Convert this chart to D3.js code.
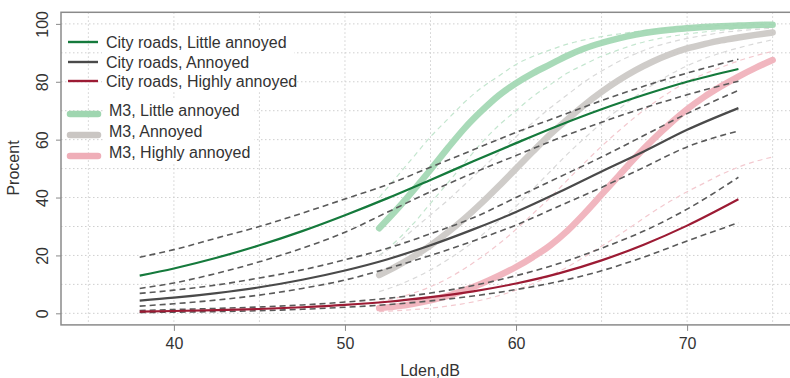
<!DOCTYPE html>
<html>
<head>
<meta charset="utf-8">
<script src="https://cdn.jsdelivr.net/npm/d3@7"></script>
<style>
  body { margin: 0; background: #fff; }
  text { font-family: "Liberation Sans", Arial, sans-serif; fill: #333; }
</style>
</head>
<body>
<svg id="chart" width="790" height="378"></svg>
<script>
// Lden (dB) where the city-road curves were read
const cityDb = [38, 40, 42.5, 45, 47.5, 50, 52.5, 55, 57.5, 60, 62.5, 65, 67.5, 70, 73];
const cityLittle   = [13, 15.5, 19.2, 23.5, 28.4, 33.9, 39.8, 46.1, 52.5, 58.8, 64.9, 70.5, 75.5, 80, 84.4];
const cityLittleHi = [19.4, 22, 26, 30, 34.6, 39.5, 44.5, 50.5, 56.5, 62.5, 68, 73.5, 78.5, 83, 87.8];
const cityLittleLo = [8.6, 10.5, 13.8, 17.8, 22.5, 28, 35, 42, 48.5, 54.5, 60.5, 66, 71, 75.5, 80.2];
const cityAnnoyed   = [4.4, 5.4, 7, 9, 11.6, 14.8, 18.7, 23.5, 29, 35, 41.8, 49, 56, 63.4, 70.9];
const cityAnnoyedHi = [6.9, 8, 9.8, 12.2, 15, 18.5, 22.5, 27.5, 33, 40, 47, 54, 61.5, 69, 77];
const cityAnnoyedLo = [2.5, 3.3, 4.6, 6.3, 8.6, 11.5, 15.5, 20, 25, 30.5, 37, 43.5, 50.5, 57.5, 63];
const cityHighly   = [0.6, 0.8, 1.1, 1.5, 2.1, 2.9, 4, 5.6, 7.6, 10.3, 13.8, 18.3, 23.8, 30.3, 39.4];
const cityHighlyHi = [1, 1.3, 1.7, 2.2, 2.9, 3.9, 5.2, 7, 9.6, 13, 17.2, 22.5, 28.5, 36, 47];
const cityHighlyLo = [0.3, 0.4, 0.6, 0.9, 1.4, 2.1, 3, 4.3, 6, 8.2, 11, 14.7, 19.5, 25, 31.3];

// Lden (dB) where the M3 curves were read
const m3Db = [52, 53, 54, 55, 56, 57, 58, 59, 60, 61, 62, 63, 64, 65, 66, 67, 68, 69, 70, 71, 72, 73, 74, 75];
const m3Little   = [29.4, 35.7, 42.5, 49.6, 57, 64, 70, 75.3, 79.5, 83, 86, 89, 91.5, 93.4, 95, 96.3, 97.3, 98, 98.5, 98.9, 99.2, 99.4, 99.6, 99.7];
const m3LittleHi = [40, 47, 54, 61, 67, 73, 78, 82, 86, 88.8, 91, 93, 94.5, 95.6, 96.5, 97.3, 98, 98.5, 99, 99.2, 99.5, 99.6, 99.7, 99.8];
const m3LittleLo = [20, 25, 31, 38, 45, 52, 59, 65, 70, 75, 79, 83, 86, 88.8, 91, 93, 94.5, 95.6, 96.5, 97.2, 97.8, 98.3, 98.7, 99];
const m3Annoyed   = [13.2, 16.2, 19.6, 23.5, 27.9, 32.8, 38.2, 44, 50, 56, 61.8, 67, 72, 76.5, 80.5, 84, 87, 89.5, 91.5, 93, 94.3, 95.3, 96.2, 97];
const m3AnnoyedHi = [20, 24, 29, 34, 39, 44.5, 50, 55.5, 61, 66, 71, 75.5, 80, 83.7, 87, 89.7, 92, 93.6, 95, 96, 97, 97.6, 98.1, 98.5];
const m3AnnoyedLo = [7.5, 9.5, 12, 15, 18.5, 22.5, 27, 32, 37, 43, 49, 55, 60.5, 65.7, 70.5, 75, 79, 82.5, 85.5, 88, 90, 91.7, 93.2, 94.5];
const m3Highly   = [1.8, 2.4, 3.3, 4.5, 6, 8, 10.3, 13, 16, 19.5, 23.5, 28.5, 34.5, 41, 47.5, 54, 60, 65.5, 70.5, 74.8, 78.5, 81.8, 84.8, 87.5];
const m3HighlyHi = [4, 5.3, 7, 9.2, 12, 15.5, 19.5, 24, 29, 34.5, 40, 46, 52, 57.7, 63, 68, 72.5, 76.5, 80, 82.7, 85, 87.2, 89, 90.5];
const m3HighlyLo = [0.6, 0.9, 1.3, 1.8, 2.5, 3.4, 4.6, 6.1, 8, 10.3, 13, 16, 19.5, 23.2, 27, 31, 35, 38.7, 42, 45, 48, 50.5, 52.5, 54];

const xTicks = [40, 50, 60, 70];
const yTicks = [0, 20, 40, 60, 80, 100];
const xGrid = [35, 40, 45, 50, 55, 60, 65, 70, 75];
const yGrid = [0, 10, 20, 30, 40, 50, 60, 70, 80, 90, 100];

const legendCity = ['City roads, Little annoyed', 'City roads, Annoyed', 'City roads, Highly annoyed'];
const legendM3 = ['M3, Little annoyed', 'M3, Annoyed', 'M3, Highly annoyed'];

const cityColors = ['#157a3c', '#4a4a4a', '#9c1b34'];
const m3Colors = ['#9fd6b0', '#cac6c3', '#efaeb8'];
const m3CiColors = ['#c4e6cf', '#d9d9d9', '#f3c9cf'];

const svg = d3.select('#chart');
const plotLeft = 61, plotRight = 800, plotTop = 12.3, plotBottom = 324.9;

const x = d3.scaleLinear().domain([33.4, 76.6]).range([plotLeft, plotRight]);
const y = d3.scaleLinear().domain([-4, 104]).range([plotBottom, plotTop]);

svg.append('defs').append('clipPath').attr('id', 'plot')
	.append('rect').attr('x', plotLeft).attr('y', plotTop)
	.attr('width', plotRight - plotLeft).attr('height', plotBottom - plotTop);

// grid
const grid = svg.append('g').attr('stroke', '#cfcfcf').attr('stroke-width', 1).attr('stroke-dasharray', '1.5,2.5');
grid.selectAll('.vg').data(xGrid).enter().append('line')
	.attr('x1', d => x(d)).attr('x2', d => x(d)).attr('y1', plotTop).attr('y2', plotBottom);
grid.selectAll('.hg').data(yGrid).enter().append('line')
	.attr('x1', plotLeft).attr('x2', plotRight).attr('y1', d => y(d)).attr('y2', d => y(d));

const line = (xs) => d3.line()
	.x((d, i) => x(xs[i]))
	.y(d => y(d))
	.curve(d3.curveMonotoneX);

const plot = svg.append('g').attr('clip-path', 'url(#plot)');

// M3 confidence limits (pale dashed)
[[m3LittleHi, m3LittleLo], [m3AnnoyedHi, m3AnnoyedLo], [m3HighlyHi, m3HighlyLo]].forEach((pair, k) => {
	pair.forEach(vals => {
		plot.append('path').datum(vals)
			.attr('d', line(m3Db))
			.attr('fill', 'none')
			.attr('stroke', m3CiColors[k])
			.attr('stroke-width', 1.2)
			.attr('stroke-dasharray', '5,4');
	});
});

// M3 curves (thick)
[m3Little, m3Annoyed, m3Highly].forEach((vals, k) => {
	plot.append('path').datum(vals)
		.attr('d', line(m3Db))
		.attr('fill', 'none')
		.attr('stroke', m3Colors[k])
		.attr('stroke-width', 6.5)
		.attr('stroke-linecap', 'round')
		.attr('opacity', 0.9);
});

// city roads confidence limits
[cityLittleHi, cityLittleLo, cityAnnoyedHi, cityAnnoyedLo, cityHighlyHi, cityHighlyLo].forEach(vals => {
	plot.append('path').datum(vals)
		.attr('d', line(cityDb))
		.attr('fill', 'none')
		.attr('stroke', '#5a5a5a')
		.attr('stroke-width', 1.6)
		.attr('stroke-dasharray', '6,4');
});

// city roads curves
[cityLittle, cityAnnoyed, cityHighly].forEach((vals, k) => {
	plot.append('path').datum(vals)
		.attr('d', line(cityDb))
		.attr('fill', 'none')
		.attr('stroke', cityColors[k])
		.attr('stroke-width', 2.2);
});

// frame
svg.append('rect')
	.attr('x', plotLeft).attr('y', plotTop)
	.attr('width', plotRight - plotLeft).attr('height', plotBottom - plotTop)
	.attr('fill', 'none').attr('stroke', '#8a8a8a').attr('stroke-width', 1.5);

// axes
const xAxis = svg.append('g').attr('transform', `translate(0,${plotBottom})`)
	.call(d3.axisBottom(x).tickValues(xTicks).tickSize(6).tickPadding(7));
xAxis.select('.domain').remove();
xAxis.selectAll('.tick line').attr('stroke', '#8a8a8a');
xAxis.selectAll('.tick text').attr('font-size', 16).attr('fill', '#333')
	.attr('font-family', '"Liberation Sans", Arial, sans-serif');

const yAxis = svg.append('g').attr('transform', `translate(${plotLeft},0)`)
	.call(d3.axisLeft(y).tickValues(yTicks).tickSize(5));
yAxis.select('.domain').remove();
yAxis.selectAll('.tick line').attr('stroke', '#8a8a8a');
yAxis.selectAll('.tick text')
	.attr('transform', 'rotate(-90)')
	.attr('x', 0).attr('y', -13.5).attr('dy', 0)
	.attr('text-anchor', 'middle')
	.attr('font-size', 16).attr('fill', '#333')
	.attr('font-family', '"Liberation Sans", Arial, sans-serif');

svg.append('text')
	.attr('x', 430).attr('y', 376)
	.attr('text-anchor', 'middle')
	.attr('font-size', 16)
	.text('Lden,dB');

svg.append('text')
	.attr('transform', 'translate(19,168) rotate(-90)')
	.attr('text-anchor', 'middle')
	.attr('font-size', 16)
	.text('Procent');

// legend
const legend = svg.append('g');
const cityRowY = [42, 62, 81];
const m3RowY = [110, 131, 152];

legend.append('rect').attr('x', 102).attr('y', 31).attr('width', 192).attr('height', 61).attr('fill', '#fff');
legend.append('rect').attr('x', 104).attr('y', 100).attr('width', 150).attr('height', 62).attr('fill', '#fff');

legendCity.forEach((name, k) => {
	legend.append('line')
		.attr('x1', 68).attr('x2', 98).attr('y1', cityRowY[k]).attr('y2', cityRowY[k])
		.attr('stroke', cityColors[k]).attr('stroke-width', 2.4);
	legend.append('text')
		.attr('x', 106).attr('y', cityRowY[k]).attr('dy', '0.35em')
		.attr('font-size', 16)
		.text(name);
});

legendM3.forEach((name, k) => {
	legend.append('line')
		.attr('x1', 70).attr('x2', 98).attr('y1', m3RowY[k] + 4).attr('y2', m3RowY[k] + 4)
		.attr('stroke', m3Colors[k]).attr('stroke-width', 6.5).attr('stroke-linecap', 'round');
	legend.append('text')
		.attr('x', 109).attr('y', m3RowY[k]).attr('dy', '0.35em')
		.attr('font-size', 16)
		.text(name);
});
</script>
</body>
</html>
